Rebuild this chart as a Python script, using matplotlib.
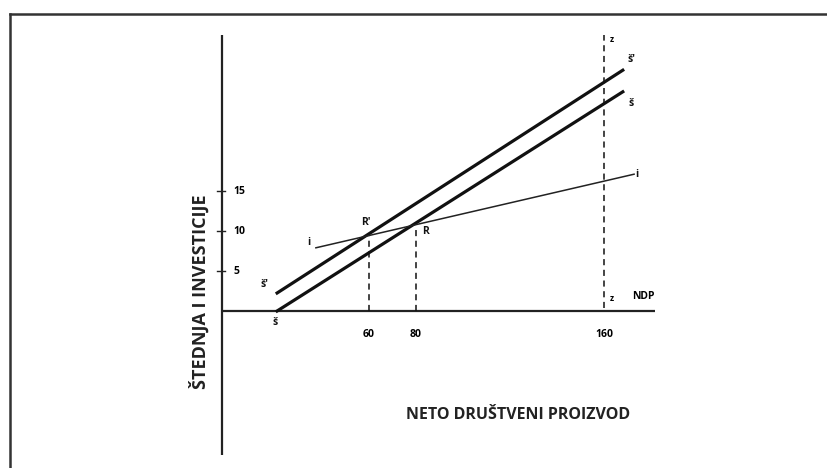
import matplotlib
matplotlib.use("Agg")
import matplotlib.pyplot as plt
from matplotlib.lines import Line2D

plt.rcParams['font.family'] = ['Open Sans', 'DejaVu Sans']

# schematic values (NDP on x, savings/investment on y)
s_x = [20.9, 168.0]          # š  savings line
s_y = [0.0, 27.4]
s2_x = [20.9, 168.0]         # š' shifted savings line
s2_y = [2.25, 30.1]
i_x = [37.4, 172.8]          # i  investment line
i_y = [7.9, 17.1]
R = (80, 10.6)
R2 = (60, 9.4)
z_x = 160
z_top = 34.5
x_ticks = [60, 80, 160]
y_ticks = [5, 10, 15]

fig = plt.figure(figsize=(8.27, 4.68), dpi=100)
ax = fig.add_axes([0, 0, 1, 1])
# map data so that px = 228 + 2.35*x, py = 311 - 8*y
ax.set_xlim((0 - 228) / 2.35, (827 - 228) / 2.35)
ax.set_ylim((311 - 468) / 8, 311 / 8)
ax.axis('off')

# outer frame (top + left only visible)
fy = 1 - 14 / 468
fx = 10 / 827
fig.add_artist(Line2D([fx, 1.0], [fy, fy], color='#333333', lw=1.8))
fig.add_artist(Line2D([fx, fx], [fy, 0.0], color='#333333', lw=1.8))

# axes
ax.plot([-2.6, 181.7], [0, 0], color='#222222', lw=1.6, solid_capstyle='butt')
ax.plot([-2.6, -2.6], [-18.0, 34.5], color='#222222', lw=1.6, solid_capstyle='butt')
for t in y_ticks:
    ax.plot([-4.8, -1.2], [t, t], color='#222222', lw=1.0)
    ax.text(2.3, t, str(t), ha='left', va='center', fontsize=7.5, fontweight='bold')
for t in x_ticks:
    ax.text(t, -2.2, str(t), ha='center', va='top', fontsize=7.5, fontweight='bold')

# lines
ax.plot(s_x, s_y, color='#111111', lw=2.3)
ax.plot(s2_x, s2_y, color='#111111', lw=2.3)
ax.plot(i_x, i_y, color='#222222', lw=1.1)

# dashed guides
dash = (0, (4, 3))
ax.plot([R2[0], R2[0]], [0, R2[1]], color='#111111', lw=1.1, linestyle=dash)
ax.plot([R[0], R[0]], [0, R[1]], color='#111111', lw=1.1, linestyle=dash)
ax.plot([z_x, z_x], [0.4, z_top], color='#111111', lw=1.1, linestyle=dash)

# labels
lab = dict(fontsize=7.5, fontweight='bold', color='#111111')
ax.text(R2[0] - 1.5, R2[1] + 1.0, "R'", ha='center', va='bottom', **lab)
ax.text(R[0] + 2.5, R[1] - 0.6, "R", ha='left', va='center', **lab)
ax.text(34.5, 8.6, "i", ha='center', va='center', **lab)
ax.text(173.5, 17.1, "i", ha='left', va='center', **lab)
ax.text(15.5, 3.3, "š'", ha='center', va='center', **lab)
ax.text(20.0, -1.4, "š", ha='center', va='center', **lab)
ax.text(170.0, 31.5, "š'", ha='left', va='center', **lab)
ax.text(170.5, 26.0, "š", ha='left', va='center', **lab)
ax.text(162.5, 34.0, "z", ha='left', va='center', fontsize=6, fontweight='bold')
ax.text(162.5, 1.6, "z", ha='left', va='center', fontsize=6, fontweight='bold')
ax.text(172.0, 1.8, "NDP", ha='left', va='center', fontsize=7.5, fontweight='bold')

ax.text((518 - 228) / 2.35, (311 - 415) / 8, "NETO DRUŠTVENI PROIZVOD",
        ha='center', va='center', fontsize=11.5, fontweight='bold', color='#222222')
ax.text((200 - 228) / 2.35, (311 - 292) / 8, "ŠTEDNJA I INVESTICIJE",
        ha='center', va='center', rotation=90, fontsize=13, fontweight='bold', color='#222222')

fig.savefig("out.png", dpi=100)
